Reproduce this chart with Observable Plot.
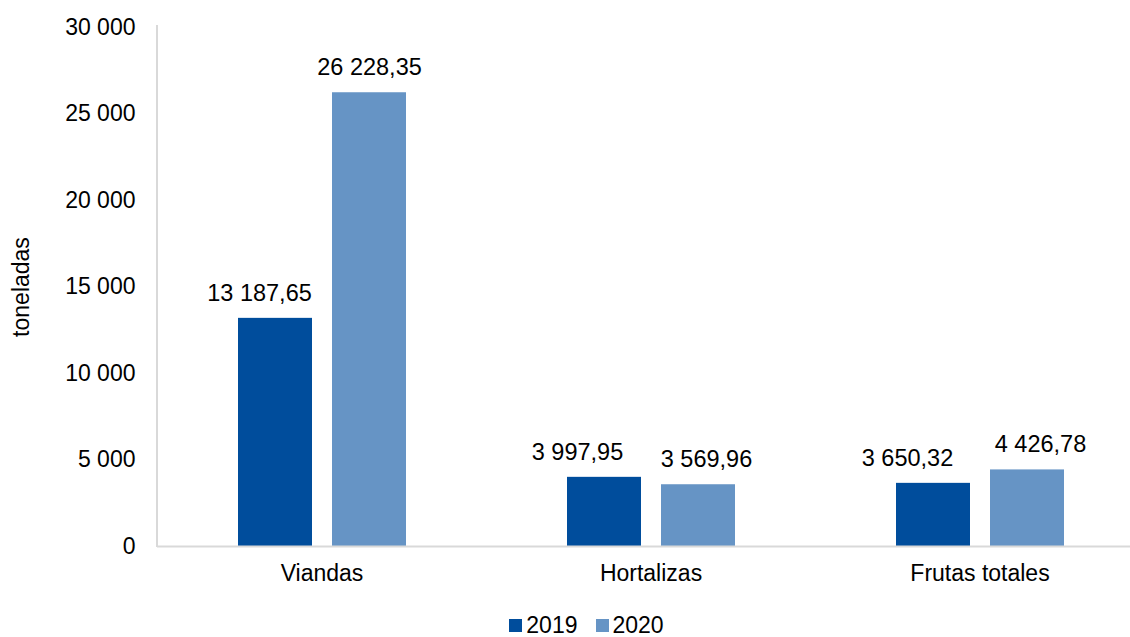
<!DOCTYPE html>
<html>
<head>
<meta charset="utf-8">
<script src="https://cdn.jsdelivr.net/npm/d3@7"></script>
<script src="https://cdn.jsdelivr.net/npm/@observablehq/plot@0.6"></script>
<style>
  html, body { margin: 0; padding: 0; background: #fff; overflow: hidden; }
  body { font-family: "Liberation Sans", Arial, sans-serif; }
  #legend { display: flex; justify-content: center; align-items: center; height: 26px; padding-left: 43px;
            font-size: 23px; line-height: 26px; color: #000; }
  .item { display: flex; align-items: center; }
  .swatch { width: 13px; height: 13px; margin-right: 4px; }
  .item + .item { margin-left: 18px; }
</style>
</head>
<body>
<div id="chart"></div>
<div id="legend"></div>
<script>
const categories = ["Viandas", "Hortalizas", "Frutas totales"];
const years = ["2019", "2020"];
const values2019 = [13187.65, 3997.95, 3650.32];
const values2020 = [26228.35, 3569.96, 4426.78];
const yTicks = [0, 5000, 10000, 15000, 20000, 25000, 30000];
const colors = ["#004d9c", "#6694c5"];
const yLabel = "toneladas";

// layout: horizontal nudge of each value label (as placed in the original), per category × year
const labelNudge = [[-16, 0], [-27, 8], [-26, 13]];

const locale = d3.formatLocale({decimal: ",", thousands: " ", grouping: [3], currency: ["", ""]});
const fmtTick = locale.format(",");
const fmtValue = locale.format(",.2f");

const series = [values2019, values2020];
const data = [];
categories.forEach((c, i) => years.forEach((y, j) => data.push({category: c, year: y, value: series[j][i], ci: i, yi: j})));

const labelMarks = data.map(d => Plot.text([d], {
  fx: "category", x: "year", y: "value", text: e => fmtValue(e.value),
  dy: -25, dx: labelNudge[d.ci][d.yi], fontSize: 23.5, fill: "#000"
}));

const plot = Plot.plot({
  width: 1130,
  height: 612,
  marginLeft: 157,
  marginRight: -14,
  marginTop: 27,
  marginBottom: 66,
  style: {fontFamily: "'Liberation Sans', Arial, sans-serif", fontSize: "23px", color: "#000", background: "#fff"},
  fx: {domain: categories, paddingInner: 0, paddingOuter: 0, label: null},
  x: {domain: years, paddingInner: 0.213, paddingOuter: 0.856, axis: null},
  y: {domain: [0, 30000]},
  color: {domain: years, range: colors},
  marks: [
    Plot.barY(data, {fx: "category", x: "year", y: "value", fill: "year"}),
    ...labelMarks,
    Plot.ruleY([0], {stroke: "#d9d9d9", strokeWidth: 2}),
    Plot.axisY(yTicks, {tickSize: 0, tickPadding: 22, tickFormat: fmtTick, fill: "#000",
      label: yLabel, labelAnchor: "center", labelOffset: 145, labelArrow: "none"}),
    Plot.axisFx({anchor: "bottom", tickSize: 0, tickPadding: 18, label: null, fill: "#000"})
  ]
});
document.getElementById("chart").appendChild(plot);

// vertical axis line along the left edge of the plot area, from the library's scales
const fxScale = plot.scale("fx");
const yScale = plot.scale("y");
d3.select(plot).append("line")
  .attr("x1", fxScale.range[0]).attr("x2", fxScale.range[0])
  .attr("y1", yScale.apply(0) + 1).attr("y2", yScale.apply(30000) - 2)
  .attr("stroke", "#d9d9d9").attr("stroke-width", 2);

const legend = document.getElementById("legend");
years.forEach((y, i) => {
  const item = document.createElement("div");
  item.className = "item";
  const sw = document.createElement("div");
  sw.className = "swatch";
  sw.style.background = colors[i];
  const t = document.createElement("span");
  t.textContent = y;
  item.appendChild(sw);
  item.appendChild(t);
  legend.appendChild(item);
});
</script>
</body>
</html>
